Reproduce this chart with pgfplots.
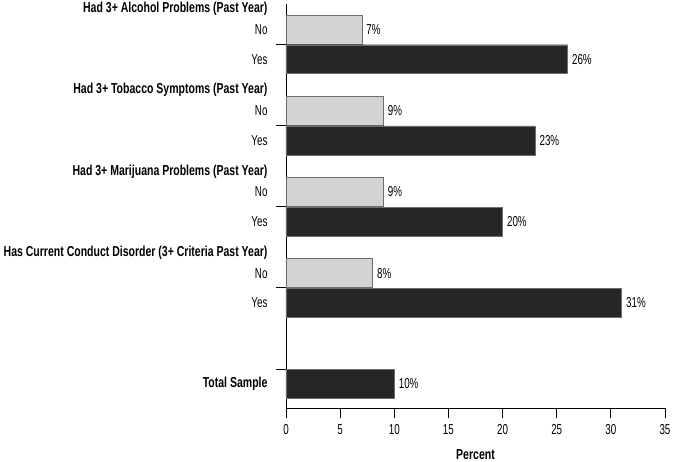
\documentclass[border=0pt]{standalone}
\usepackage{fontspec}
\setmainfont{Liberation Sans}[FakeStretch=0.68, BoldFeatures={FakeStretch=0.73}]
\usepackage{pgfplots}
\pgfplotsset{compat=1.18}
\definecolor{lightbar}{RGB}{211,211,211}
\definecolor{darkbar}{RGB}{38,38,38}
\definecolor{edge}{RGB}{110,110,110}
\newcommand{\chartfont}{\fontsize{14.4}{16}\selectfont}
\begin{document}
\begin{tikzpicture}[font=\chartfont]
\begin{axis}[
  scale only axis, width=379pt, height=404pt,
  xmin=0, xmax=35, ymin=-12.32, ymax=1.37,
  axis x line=bottom, axis y line=left,
  axis line style={-, thick},
  tick align=outside, major tick length=10pt,
  tick style={black, thick},
  every tick label/.append style={font=\chartfont},
  label style={font=\chartfont},
  xtick={0,5,...,35},
  ytick={0,-2.75,-5.5,-8.25,-11},
  yticklabels={},
  extra y ticks={1.2,0.5,-0.5,-1.55,-2.25,-3.25,-4.3,-5,-6,-7.05,-7.75,-8.75,-11.5},
  extra y tick labels={\textbf{Had 3+ Alcohol Problems (Past Year)},No,Yes,
    \textbf{Had 3+ Tobacco Symptoms (Past Year)},No,Yes,
    \textbf{Had 3+ Marijuana Problems (Past Year)},No,Yes,
    \textbf{Has Current Conduct Disorder (3+ Criteria Past Year)},No,Yes,
    \textbf{Total Sample}},
  extra y tick style={tick style={draw=none}},
  yticklabel style={xshift=-5pt},
  xticklabel style={yshift=-3pt},
  xlabel={\textbf{Percent}},
  xlabel style={yshift=-8pt},
  /pgf/number format/assume math mode=true,
  point meta=x,
  nodes near coords={\pgfmathprintnumber{\pgfplotspointmeta}\%},
  every node near coord/.append style={font=\chartfont, xshift=1pt},
  clip=false,
]
\addplot[xbar, bar shift=0pt, bar width=0.98, fill=lightbar, draw=edge]
  coordinates {(7,0.5) (9,-2.25) (9,-5) (8,-7.75)};
\addplot[xbar, bar shift=0pt, bar width=0.98, fill=darkbar, draw=edge]
  coordinates {(26,-0.5) (23,-3.25) (20,-6) (31,-8.75) (10,-11.5)};
\coordinate (O) at (rel axis cs:0,0);
\end{axis}
\pgfresetboundingbox
\path[use as bounding box] ([xshift=-286pt,yshift=-54pt]O) rectangle ([xshift=389pt,yshift=408pt]O);
\end{tikzpicture}
\end{document}
